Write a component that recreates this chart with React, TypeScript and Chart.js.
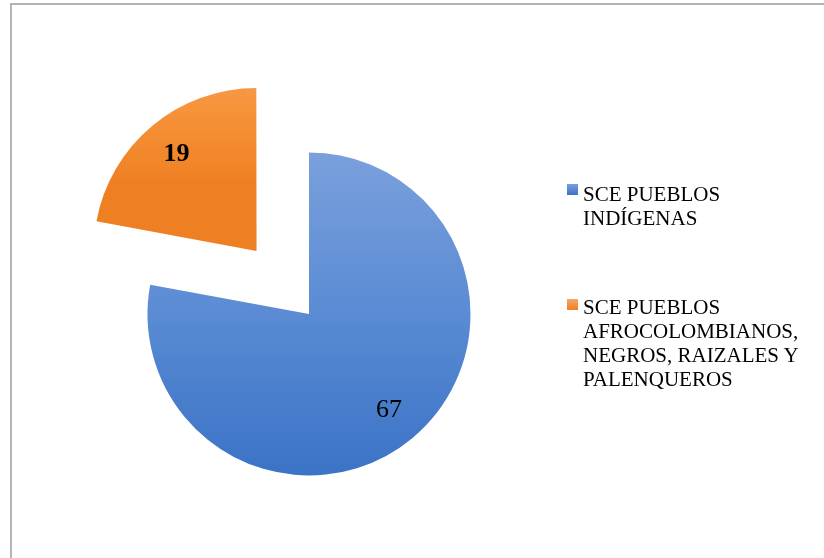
import React, { useEffect, useRef } from "react";
import { Chart, registerables } from "chart.js";

Chart.register(...registerables);

const categories: string[][] = [
  ["SCE PUEBLOS", "INDÍGENAS"],
  ["SCE PUEBLOS", "AFROCOLOMBIANOS,", "NEGROS, RAIZALES Y", "PALENQUEROS"],
];
const values: number[] = [67, 19];
const explodeDistances: number[] = [0, 82];
const topColors: string[] = ["#7aa0dc", "#f6a66e"];
const midColors: string[] = ["#5a8bd4", "#f7933a"];
const bottomColors: string[] = ["#3b73c6", "#ee7f22"];
const labelBold: boolean[] = [false, true];

const RADIUS = 161.5;

const labelPlugin = {
  id: "sliceLabels",
  afterDatasetsDraw(chart: any) {
    const ctx = chart.ctx;
    const meta = chart.getDatasetMeta(0);
    meta.data.forEach((arc: any, i: number) => {
      const p = arc.getProps(["x", "y", "startAngle", "endAngle", "outerRadius"], true);
      const mid = (p.startAngle + p.endAngle) / 2;
      const d = explodeDistances[i] + 0.775 * p.outerRadius;
      const px = p.x + Math.cos(mid) * d;
      const py = p.y + Math.sin(mid) * d;
      ctx.save();
      ctx.fillStyle = "#000";
      ctx.font = `${labelBold[i] ? "bold " : ""}26px "Liberation Serif"`;
      ctx.textAlign = "center";
      ctx.textBaseline = "middle";
      ctx.fillText(String(values[i]), px, py);
      ctx.restore();
    });
  },
};

export default function App() {
  const ref = useRef<HTMLCanvasElement>(null);
  useEffect(() => {
    if (!ref.current) return;
    const chart = new Chart(ref.current, {
      type: "pie",
      data: {
        labels: categories.map((c) => c.join(" ")),
        datasets: [
          {
            data: values,
            // Chart.js translates an arc by offset / 4
            offset: explodeDistances.map((d) => d * 4),
            borderWidth: 0,
            backgroundColor: (c: any) => {
              const ch = c.chart;
              const area = ch.chartArea;
              const i = c.dataIndex;
              if (!area || i === undefined) return topColors[i ?? 0];
              const cy = (area.top + area.bottom) / 2;
              const total = values.reduce((a, b) => a + b, 0);
              let start = 0;
              for (let k = 0; k < i; k++) start += values[k];
              const a0 = (start / total) * Math.PI * 2 - Math.PI / 2;
              const a1 = ((start + values[i]) / total) * Math.PI * 2 - Math.PI / 2;
              const mid = (a0 + a1) / 2;
              const dy = Math.sin(mid) * explodeDistances[i];
              let yTop = cy + dy;
              let yBot = cy + dy;
              const steps = 60;
              for (let s = 0; s <= steps; s++) {
                const a = a0 + ((a1 - a0) * s) / steps;
                const y = cy + dy + Math.sin(a) * RADIUS;
                yTop = Math.min(yTop, y);
                yBot = Math.max(yBot, y);
              }
              const g = ch.ctx.createLinearGradient(0, yTop, 0, yBot);
              g.addColorStop(0, topColors[i]);
              g.addColorStop(0.5, midColors[i]);
              g.addColorStop(1, bottomColors[i]);
              return g;
            },
          } as any,
        ],
      },
      options: {
        animation: false,
        responsive: false,
        maintainAspectRatio: false,
        radius: RADIUS,
        layout: { padding: { left: 0, right: 206, top: 70, bottom: 0 } },
        plugins: {
          legend: { display: false },
          tooltip: { enabled: false },
        },
      } as any,
      plugins: [labelPlugin],
    });
    return () => chart.destroy();
  }, []);

  const legendTops = [181.5, 295.2];
  const squareTops = [183.5, 298.5];

  return (
    <div
      style={{
        position: "fixed",
        left: 0,
        top: 0,
        width: 824,
        height: 558,
        background: "#fff",
        overflow: "hidden",
      }}
    >
      <div
        style={{
          position: "absolute",
          left: 10,
          top: 3,
          width: 900,
          height: 700,
          borderLeft: "2px solid #b4b4b4",
          borderTop: "2px solid #b4b4b4",
        }}
      />
      <canvas
        ref={ref}
        width={824}
        height={558}
        style={{ position: "absolute", left: 0, top: 0, width: 824, height: 558 }}
      />
      {categories.map((lines, i) => (
        <React.Fragment key={i}>
          <div
            style={{
              position: "absolute",
              left: 566.5,
              top: squareTops[i],
              width: 11,
              height: 11,
              background: `linear-gradient(${topColors[i]}, ${bottomColors[i]})`,
            }}
          />
          <div
            style={{
              position: "absolute",
              left: 583,
              top: legendTops[i],
              fontFamily: '"Liberation Serif", serif',
              fontSize: 21,
              lineHeight: "24px",
              color: "#000",
              whiteSpace: "nowrap",
            }}
          >
            {lines.map((l, j) => (
              <div key={j}>{l}</div>
            ))}
          </div>
        </React.Fragment>
      ))}
    </div>
  );
}
